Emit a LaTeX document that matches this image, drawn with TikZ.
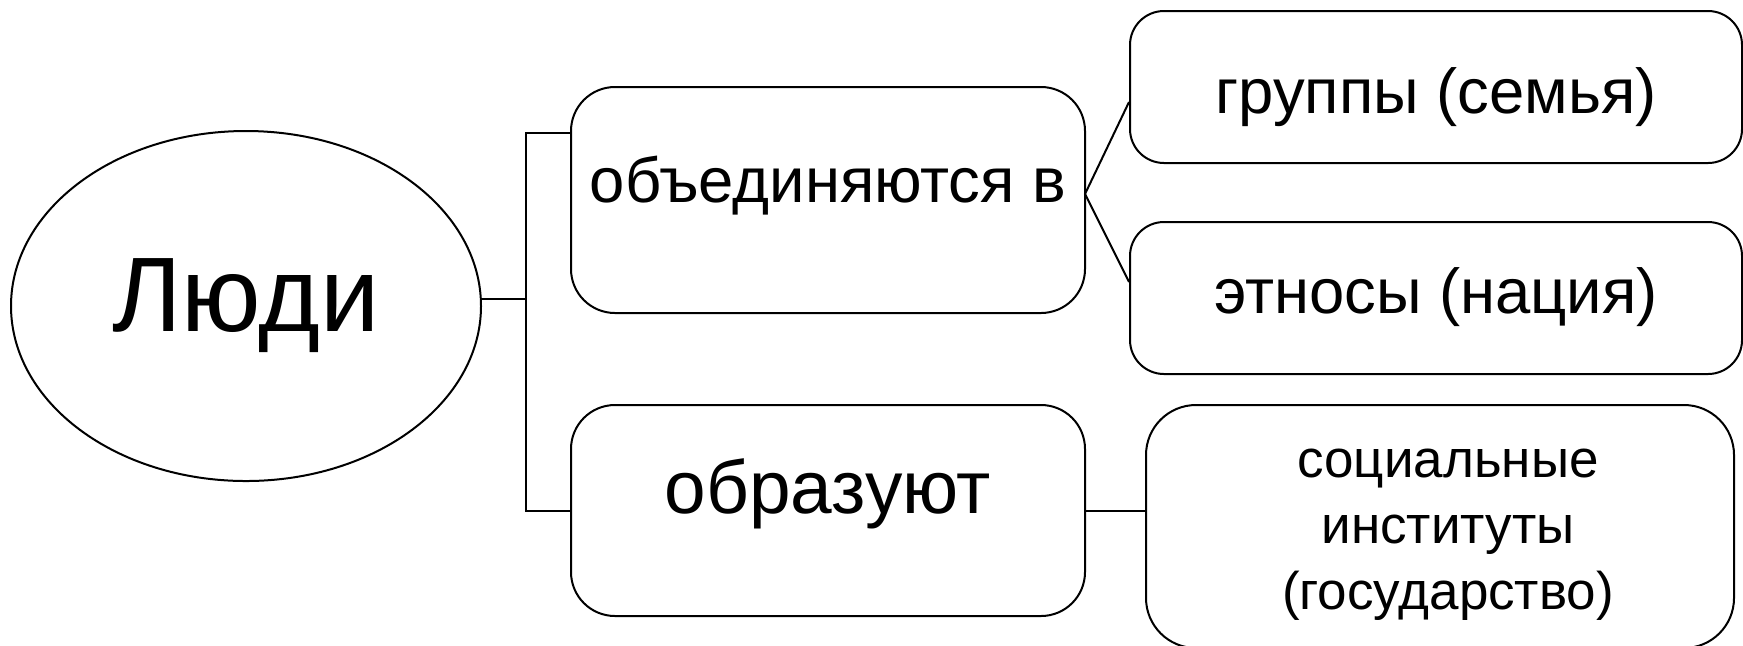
\documentclass[tikz,border=0pt]{standalone}
\usepackage{fontspec}
\setmainfont{Liberation Sans}
\usetikzlibrary{shapes.geometric}
\begin{document}
\begin{tikzpicture}[x=0.5pt,y=-0.5pt,line width=1pt,
  box/.style={draw,rounded corners=22pt,inner sep=0pt,align=center,text depth=0pt},
  fsa/.style={font=\fontsize{31.7}{38}\selectfont},
  fsb/.style={font=\fontsize{26.5}{33}\selectfont}]
\useasboundingbox (0,0) rectangle (1743,645);
\node[draw,ellipse,inner sep=0pt,minimum width=235pt,minimum height=175pt,
  font=\fontsize{53}{60}\selectfont] (people) at (246,306) {Люди};
\node[box,fsa,text height=2pt,minimum width=257pt,minimum height=113pt] (unite) at (828,200) {объединяются в};
\node[box,font=\fontsize{37.4}{44}\selectfont,text height=3pt,minimum width=257pt,minimum height=105.5pt] (form) at (828,510.5) {образуют};
\node[box,fsa,text height=26.6pt,rounded corners=17pt,minimum width=306pt,minimum height=76pt] (groups) at (1436,87) {группы (семья)};
\node[box,fsa,text height=15.2pt,rounded corners=17pt,minimum width=306pt,minimum height=76pt] (ethnos) at (1436,298) {этносы (нация)};
\node[box,rounded corners=25pt,minimum width=294pt,minimum height=121.5pt] (inst) at (1440,526.5) {};
\node[fsb,align=center] (inst-text) at ([xshift=4pt,yshift=-4pt]inst.center)
  {социальные\\институты\\(государство)};
% bracket
\coordinate (jtop) at (526,133);
\coordinate (jmid) at (526,299);
\coordinate (jbot) at (526,511);
\draw (unite.west |- jtop) -- (jtop) -- (jbot) -- (form.west |- jbot);
\draw (people.east |- jmid) -- (jmid);
% fork to the right
\coordinate (fork) at (1085,194);
\draw (groups.west |- 0,102) -- (fork) -- (ethnos.west |- 0,282);
\draw (form.east |- jbot) -- (inst.west |- jbot);
\end{tikzpicture}
\end{document}
